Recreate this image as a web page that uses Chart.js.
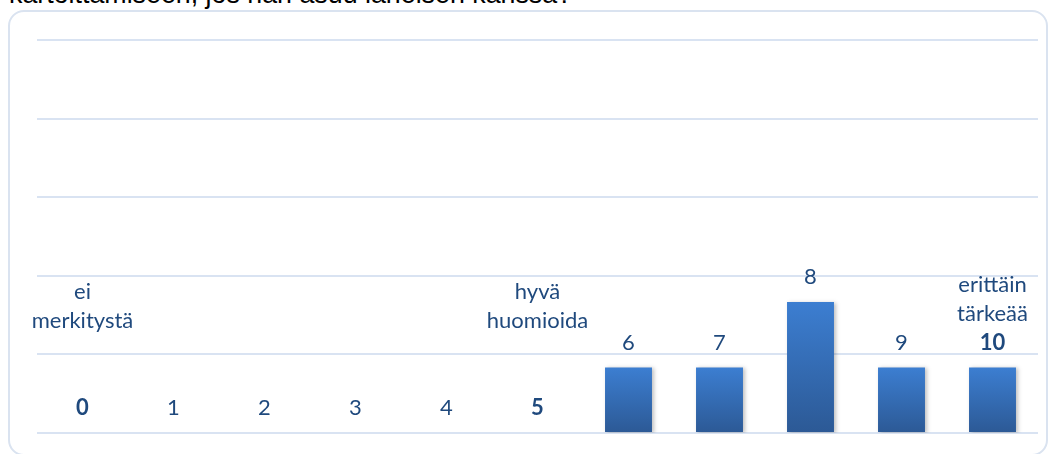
<!DOCTYPE html>
<html>
<head>
<meta charset="utf-8">
<script src="https://cdn.jsdelivr.net/npm/chart.js@4"></script>
<style>
  html, body { margin: 0; padding: 0; background: #fff; overflow: hidden; }
  body { width: 1056px; height: 454px; position: relative; }
  #title {
    position: absolute; left: 9px; top: -21px;
    font: 26.8px "Liberation Sans", Arial, sans-serif; color: #000; white-space: nowrap;
  }
  #frame {
    position: absolute; left: 8px; top: 10px; width: 1040px; height: 446px;
    border: 2px solid #dae3f0; border-radius: 16px; box-sizing: border-box;
  }
  #wrap { position: absolute; left: 0; top: 0; width: 1056px; height: 454px; }
</style>
</head>
<body>
<div id="title">kartoittamiseen, jos hän asuu läheisen kanssa?</div>
<div id="frame"></div>
<div id="wrap"><canvas id="chart"></canvas></div>
<script>
// categories (scale 0-10) and share of answers in percent
const categories = ['0', '1', '2', '3', '4', '5', '6', '7', '8', '9', '10'];
const shares = [0, 0, 0, 0, 0, 0, 16.67, 16.67, 33.33, 16.67, 16.67];
// extra text shown above some category numbers
const notes = [['ei', 'merkitystä', '', ''], [], [], [], [], ['hyvä', 'huomioida', '', ''], [], [], [], [], ['erittäin', 'tärkeää']];
const boldCats = ['0', '5', '10'];
const yTicks = [0, 20, 40, 60, 80, 100];

const labelColor = '#1f497d';

// draws the number (and note lines) above each bar
const barLabels = {
  id: 'barLabels',
  afterDatasetsDraw(chart) {
    const c = chart.ctx;
    const x = chart.scales.x, y = chart.scales.y;
    const lineH = 29;
    c.save();
    c.fillStyle = labelColor;
    c.textAlign = 'center';
    c.textBaseline = 'middle';
    categories.forEach((cat, i) => {
      const px = x.getPixelForValue(i);
      const py = y.getPixelForValue(shares[i]) - 25;
      c.font = (boldCats.includes(cat) ? 'bold ' : '') + '22px Lato, "Open Sans", sans-serif';
      c.fillText(cat, px, py);
      c.font = '22px Lato, "Open Sans", sans-serif';
      const lines = notes[i];
      lines.forEach((t, k) => {
        c.fillText(t, px, py - lineH * (lines.length - k));
      });
    });
    c.restore();
  }
};

// soft shadow behind bars
const barShadow = {
  id: 'barShadow',
  beforeDatasetsDraw(chart) {
    chart.ctx.save();
    chart.ctx.shadowColor = 'rgba(0,0,0,0.25)';
    chart.ctx.shadowBlur = 4;
    chart.ctx.shadowOffsetX = 2;
    chart.ctx.shadowOffsetY = 1;
  },
  afterDatasetsDraw(chart) {
    chart.ctx.restore();
  }
};

const chart = document.querySelector('#chart').getContext('2d');

new Chart(chart, {
  type: 'bar',
  data: {
    labels: categories,
    datasets: [{
      data: shares,
      backgroundColor: (ctx) => {
        const ch = ctx.chart;
        if (!ch.chartArea || ctx.type !== 'data') return '#3a72bd';
        const y = ch.scales.y;
        const top = y.getPixelForValue(shares[ctx.dataIndex]);
        const bottom = y.getPixelForValue(0);
        if (bottom - top < 1) return '#3a72bd';
        const g = ch.ctx.createLinearGradient(0, top, 0, bottom);
        g.addColorStop(0, '#3c7ed1');
        g.addColorStop(1, '#2c5995');
        return g;
      },
      borderWidth: 0,
      barPercentage: 0.516,
      categoryPercentage: 1
    }]
  },
  options: {
    responsive: true,
    maintainAspectRatio: false,
    animation: false,
    layout: { padding: { left: 37, right: 18, top: 40, bottom: 21 } },
    plugins: {
      legend: { display: false },
      tooltip: { enabled: false }
    },
    scales: {
      x: {
        display: false
      },
      y: {
        min: 0,
        max: 100,
        afterBuildTicks: (axis) => { axis.ticks = yTicks.map(v => ({ value: v })); },
        grid: { color: '#d9e3f2', lineWidth: 2, drawTicks: false },
        border: { display: false },
        ticks: { display: false }
      }
    }
  },
  plugins: [barShadow, barLabels]
});
</script>
</body>
</html>
